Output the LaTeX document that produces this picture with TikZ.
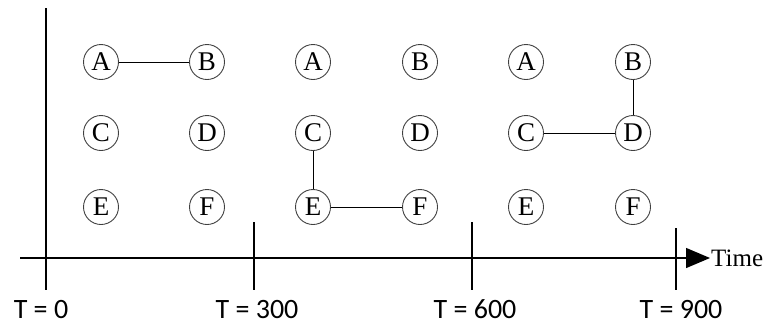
\documentclass[tikz,border=0pt]{standalone}
\usepackage{fontspec}
\setmainfont{Liberation Serif}
\newfontfamily\labfont{Carlito}
\usetikzlibrary{arrows.meta}
\begin{document}
\begin{tikzpicture}[x=1pt,y=-1pt,
  station/.style={circle,draw=black!75,line width=0.9pt,minimum size=35pt,inner sep=0pt,font=\fontsize{27}{29}\selectfont},
  link/.style={line width=1pt},
  axis/.style={line width=1.3pt},
  tlabel/.style={font=\labfont\fontsize{28}{30}\selectfont,anchor=base}]
\useasboundingbox (0,0) rectangle (768,325);
\node[station] (A1) at (101,62) {A};
\node[station] (B1) at (207,62) {B};
\node[station] (C1) at (101,133) {C};
\node[station] (D1) at (207,133) {D};
\node[station] (E1) at (101,207) {E};
\node[station] (F1) at (207,207) {F};
\node[station] (A2) at (313,62) {A};
\node[station] (B2) at (420,62) {B};
\node[station] (C2) at (313,133) {C};
\node[station] (D2) at (420,133) {D};
\node[station] (E2) at (313,207) {E};
\node[station] (F2) at (420,207) {F};
\node[station] (A3) at (526,62) {A};
\node[station] (B3) at (633,62) {B};
\node[station] (C3) at (526,133) {C};
\node[station] (D3) at (633,133) {D};
\node[station] (E3) at (526,207) {E};
\node[station] (F3) at (633,207) {F};
\draw[link] (A1) -- (B1);
\draw[link] (C2) -- (E2);
\draw[link] (E2) -- (F2);
\draw[link] (B3) -- (D3);
\draw[link] (C3) -- (D3);
% axes
\coordinate (xs) at (20,258);
\coordinate (xe) at (710,258);
\coordinate (ys) at (46,8);
\coordinate (ye) at (46,290);
\draw[axis] (ys) -- (ye);
\draw[axis,-{Triangle[length=24pt,width=20pt]}] (xs) -- (xe);
\node[anchor=west,inner sep=0pt,font=\fontsize{25}{27}\selectfont] (time) at (711,258) {Time};
\coordinate (t3a) at (254,222); \coordinate (t3b) at (254,290);
\coordinate (t6a) at (472,222); \coordinate (t6b) at (472,290);
\coordinate (t9a) at (676,228); \coordinate (t9b) at (676,290);
\draw[axis] (t3a) -- (t3b);
\draw[axis] (t6a) -- (t6b);
\draw[axis] (t9a) -- (t9b);
\node[tlabel] (l0) at (41,318) {T = 0};
\node[tlabel] (l3) at (257,318) {T = 300};
\node[tlabel] (l6) at (475,318) {T = 600};
\node[tlabel] (l9) at (681,318) {T = 900};
\end{tikzpicture}
\end{document}
